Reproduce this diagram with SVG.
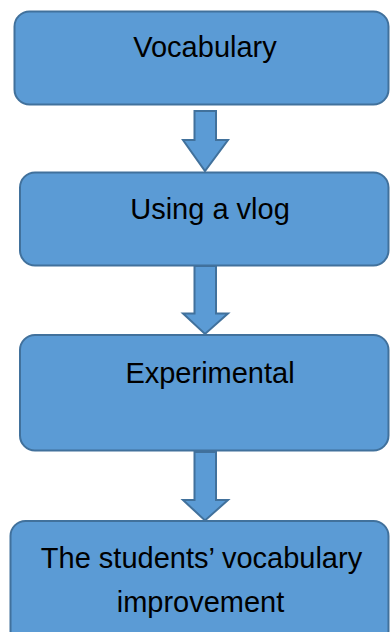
<svg xmlns="http://www.w3.org/2000/svg" width="390" height="632" viewBox="0 0 390 632">
<style>
.box{fill:#5B9BD5;stroke:#41719C;stroke-width:2}
.arr{fill:#5B9BD5;stroke:#41719C;stroke-width:2;stroke-linejoin:miter}
.t{font-family:"Liberation Sans",Arial,sans-serif;font-size:29px;fill:#000;text-anchor:middle}
</style>
<rect width="390" height="632" fill="#fff"/>
<g id="connectors">
<path class="arr" d="M194.5,111 H216 V140 H228 L205,171 L183,140 H194.5 Z"/>
<path class="arr" d="M194.5,266 H216 V313.5 H228 L205,334 L183,313.5 H194.5 Z"/>
<path class="arr" d="M194.5,452 H216 V500 H228 L205,520.5 L183,500 H194.5 Z"/>
</g>
<g id="node-vocabulary">
<rect class="box" x="14.5" y="11.5" width="374" height="93" rx="15"/>
<text class="t" x="205" y="57">Vocabulary</text>
</g>
<g id="node-vlog">
<rect class="box" x="20" y="172.5" width="368.5" height="93" rx="15"/>
<text class="t" x="210" y="219">Using a vlog</text>
</g>
<g id="node-experimental">
<rect class="box" x="20" y="335" width="368.5" height="115.5" rx="15"/>
<text class="t" x="210" y="383">Experimental</text>
</g>
<g id="node-improvement">
<rect class="box" x="10.5" y="521" width="378" height="125" rx="15"/>
<text class="t" x="201.5" y="568">The students’ vocabulary</text>
<text class="t" x="200.5" y="612">improvement</text>
</g>
</svg>
